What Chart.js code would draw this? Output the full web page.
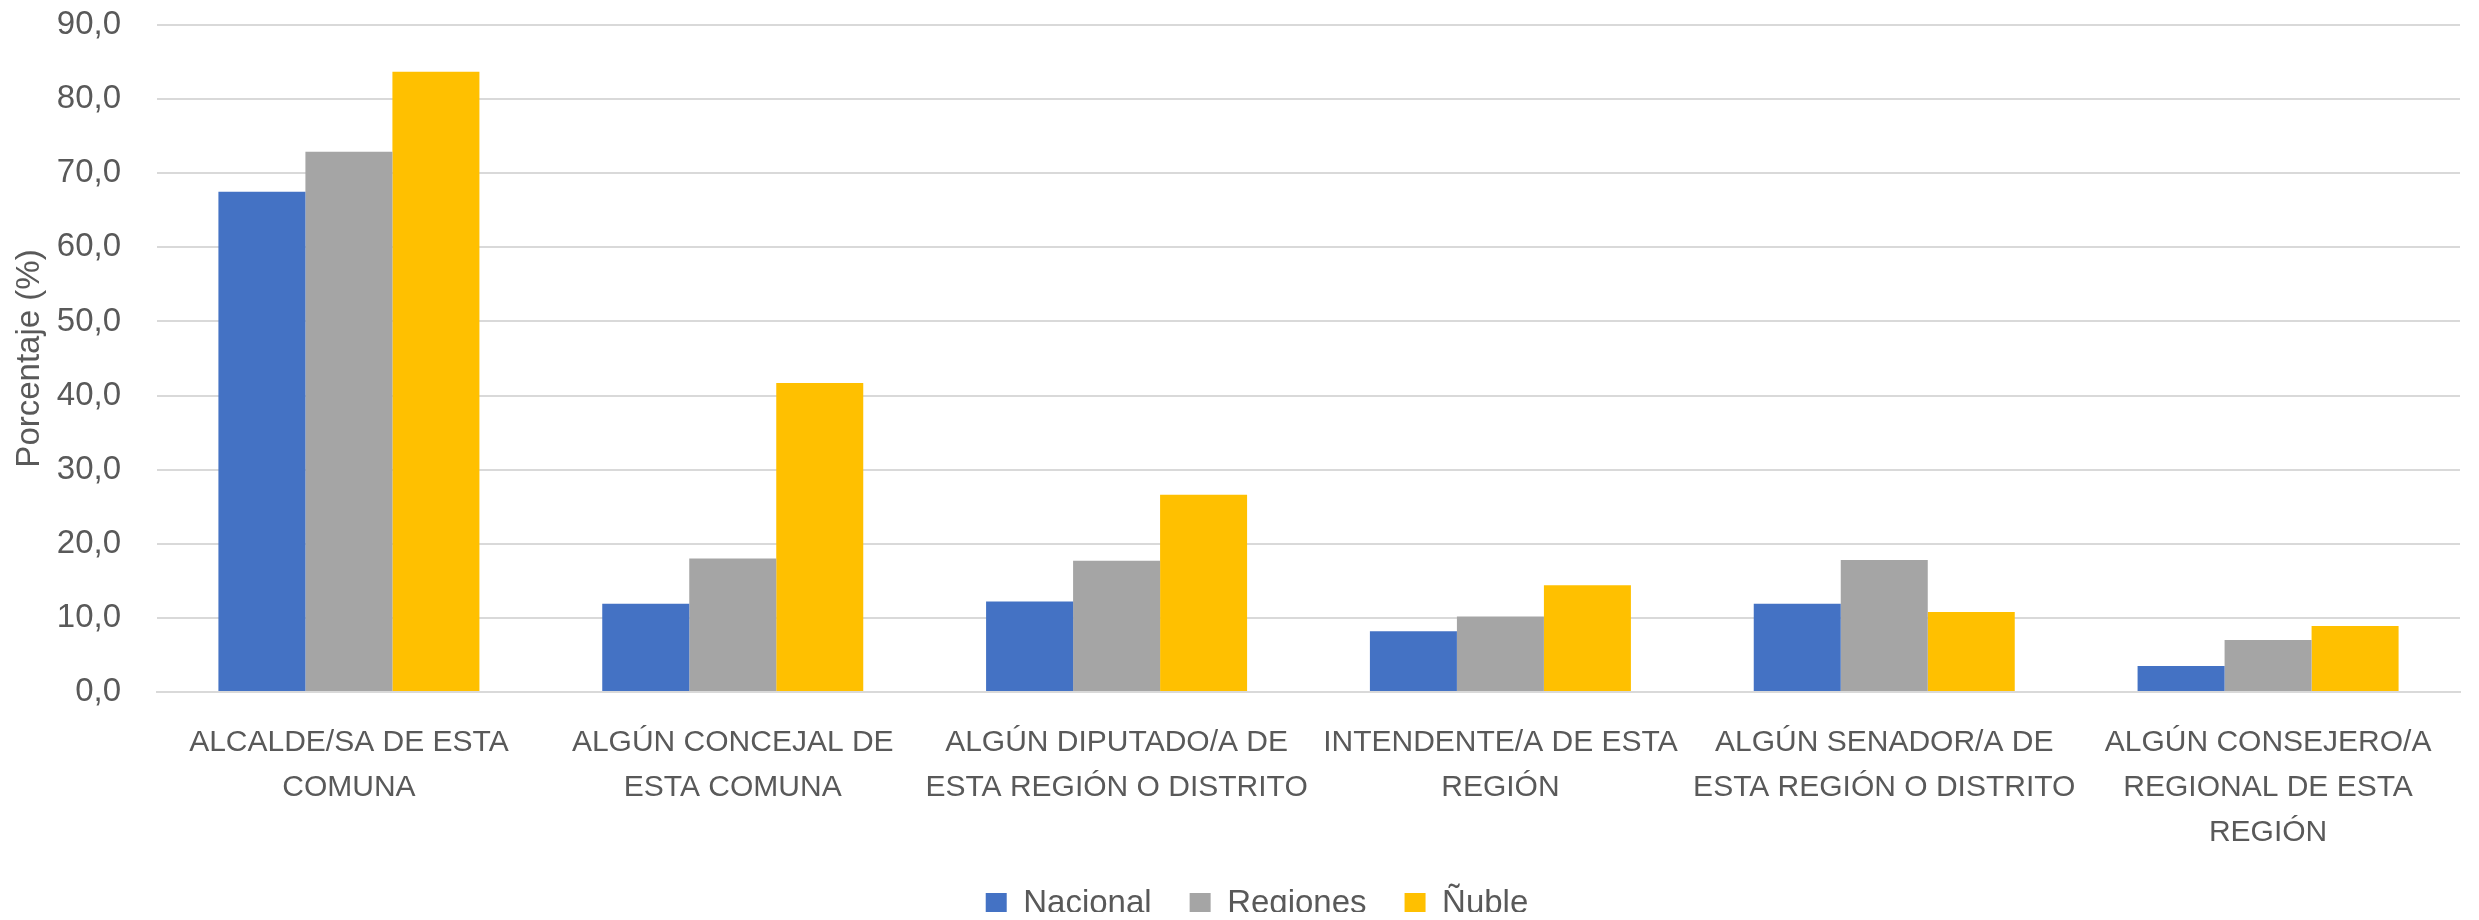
<!DOCTYPE html>
<html>
<head>
<meta charset="utf-8">
<script src="https://cdn.jsdelivr.net/npm/chart.js@4/dist/chart.umd.min.js"></script>
<style>
  html, body { margin: 0; padding: 0; background: #ffffff; }
  #wrap { width: 2479px; height: 920px; position: relative; }
</style>
</head>
<body>
<div id="wrap"><canvas id="c" width="2479" height="920"></canvas></div>
<script>
const categories = [
  ["ALCALDE/SA DE ESTA", "COMUNA"],
  ["ALGÚN CONCEJAL DE", "ESTA COMUNA"],
  ["ALGÚN DIPUTADO/A DE", "ESTA REGIÓN O DISTRITO"],
  ["INTENDENTE/A DE ESTA", "REGIÓN"],
  ["ALGÚN SENADOR/A DE", "ESTA REGIÓN O DISTRITO"],
  ["ALGÚN CONSEJERO/A", "REGIONAL DE ESTA", "REGIÓN"]
];
const seriesNames = ["Nacional", "Regiones", "Ñuble"];
const nacional = [67.5, 11.9, 12.2, 8.2, 11.9, 3.5];
const regiones = [72.9, 18.0, 17.7, 10.2, 17.8, 7.0];
const nuble = [83.7, 41.7, 26.6, 14.4, 10.8, 8.9];
const yMin = 0, yMax = 90, yStep = 10;
const yTitle = "Porcentaje (%)";

const colors = ["#4472C4", "#A5A5A5", "#FFC000"];
const textColor = "#595959";
const gridColor = "#D9D9D9";
const fontFam = "'Liberation Sans', Arial, sans-serif";

const legendShift = {
  id: 'legendShift',
  afterLayout(chart) {
    const l = chart.legend;
    if (l) { l.left += 27; l.right += 27; }
  }
};

const ctx = document.getElementById('c').getContext('2d');
new Chart(ctx, {
  type: 'bar',
  data: {
    labels: categories,
    datasets: [nacional, regiones, nuble].map((d, i) => ({
      label: seriesNames[i],
      data: d,
      backgroundColor: colors[i],
      borderWidth: 0,
      categoryPercentage: 0.68,
      barPercentage: 1.0
    }))
  },
  plugins: [legendShift],
  options: {
    responsive: false,
    animation: false,
    devicePixelRatio: 1,
    layout: { padding: { top: 25, right: 19, bottom: 8, left: 0 } },
    plugins: {
      tooltip: { enabled: false },
      legend: {
        position: 'bottom',
        maxHeight: 63,
        labels: {
          color: textColor,
          font: { family: fontFam, size: 33 },
          boxWidth: 21,
          boxHeight: 21,
          padding: 38
        }
      }
    },
    scales: {
      x: {
        grid: { display: false, drawTicks: false },
        border: { display: true, color: gridColor, width: 2 },
        ticks: {
          color: textColor,
          font: { family: fontFam, size: 30, lineHeight: 1.5 },
          autoSkip: false,
          maxRotation: 0,
          minRotation: 0,
          padding: 28
        },
        afterFit: (s) => { s.height = 157; }
      },
      y: {
        min: yMin,
        max: yMax,
        grid: { color: gridColor, lineWidth: 2, drawTicks: true, tickLength: 36, tickColor: 'rgba(0,0,0,0)' },
        border: { display: false },
        ticks: {
          stepSize: yStep,
          color: textColor,
          font: { family: fontFam, size: 33 },
          padding: 0,
          callback: (v) => Number(v).toFixed(1).replace('.', ',')
        },
        title: {
          display: true,
          text: yTitle,
          color: textColor,
          font: { family: fontFam, size: 33 },
          padding: { top: 10, bottom: 0 }
        },
        afterFit: (s) => { s.width = 157; }
      }
    }
  }
});
</script>
</body>
</html>
